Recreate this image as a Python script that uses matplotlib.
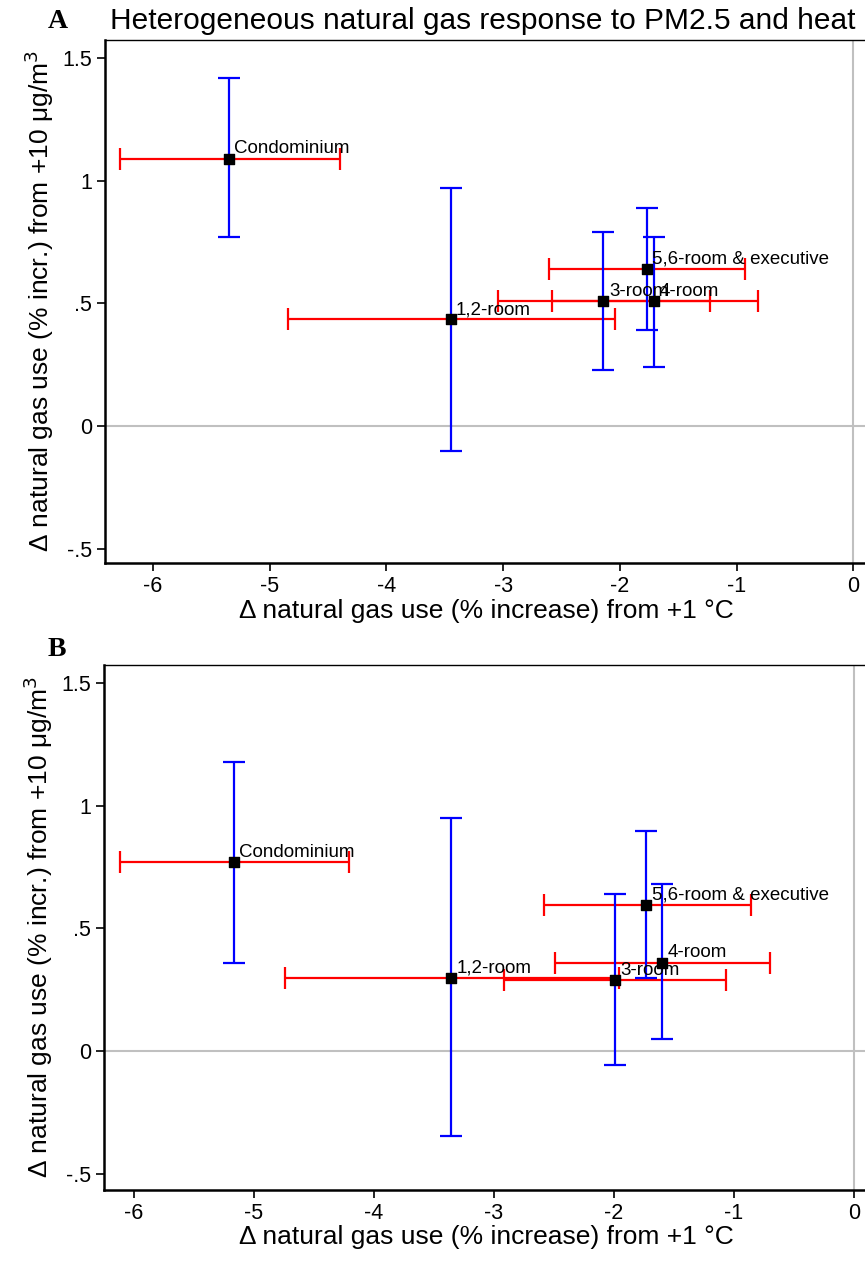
import matplotlib
matplotlib.use('Agg')
import matplotlib.pyplot as plt

plt.rcParams['axes.unicode_minus'] = False
plt.rcParams['font.family'] = ['Liberation Sans', 'DejaVu Sans']

groups = ['Condominium', '1,2-room', '3-room', '4-room', '5,6-room & executive']

# panel A
a_x = [-5.35, -3.45, -2.14, -1.71, -1.77]
a_xlo = [-6.28, -4.84, -3.04, -2.58, -2.61]
a_xhi = [-4.40, -2.04, -1.23, -0.82, -0.93]
a_y = [1.09, 0.435, 0.51, 0.51, 0.64]
a_ylo = [0.77, -0.10, 0.23, 0.24, 0.39]
a_yhi = [1.42, 0.97, 0.79, 0.77, 0.89]

# panel B
b_x = [-5.17, -3.36, -1.99, -1.60, -1.73]
b_xlo = [-6.12, -4.74, -2.92, -2.49, -2.58]
b_xhi = [-4.21, -1.96, -1.07, -0.70, -0.86]
b_y = [0.77, 0.30, 0.29, 0.36, 0.595]
b_ylo = [0.36, -0.345, -0.055, 0.05, 0.30]
b_yhi = [1.18, 0.95, 0.64, 0.68, 0.895]

yticks = [-0.5, 0, 0.5, 1, 1.5]
ytick_labels = ['-.5', '0', '.5', '1', '1.5']
xticks = [-6, -5, -4, -3, -2, -1, 0]

W, H = 865, 1264
fig = plt.figure(figsize=(W / 100, H / 100), dpi=100)


def panel(rect, xlim, ylim, x, xlo, xhi, y, ylo, yhi):
    ax = fig.add_axes(rect)
    ax.set_xlim(*xlim)
    ax.set_ylim(*ylim)
    ax.axhline(0, color='#c0c0c0', lw=1.5, zorder=0)
    ax.axvline(0, color='#c0c0c0', lw=1.5, zorder=0)
    for i in range(len(x)):
        ax.errorbar(x[i], y[i], xerr=[[x[i] - xlo[i]], [xhi[i] - x[i]]],
                    fmt='none', ecolor='red', elinewidth=1.6, capsize=8, capthick=1.6, zorder=2)
        ax.errorbar(x[i], y[i], yerr=[[y[i] - ylo[i]], [yhi[i] - y[i]]],
                    fmt='none', ecolor='blue', elinewidth=1.6, capsize=8, capthick=1.6, zorder=3)
    ax.scatter(x, y, marker='s', s=60, color='black', zorder=4)
    # labels overlap for 3-room/4-room in the original too
    for name, xi, yi in zip(groups, x, y):
        ax.annotate(name, (xi, yi), xytext=(4, 1), textcoords='offset points',
                    fontsize=13.5, va='bottom', ha='left', zorder=5)
    ax.set_yticks(yticks)
    ax.set_yticklabels(ytick_labels)
    ax.set_xticks(xticks)
    ax.tick_params(direction='out', length=6, width=1.2, labelsize=15.5)
    for s in ['left', 'bottom']:
        ax.spines[s].set_linewidth(1.8)
    ax.spines['top'].set_linewidth(1.0)
    ax.spines['right'].set_visible(False)
    ax.set_xlabel('Δ natural gas use (% increase) from +1 °C', fontsize=19)
    ax.set_ylabel('Δ natural gas use (% incr.) from +10 μg/m$^3$', fontsize=19, labelpad=4)
    return ax


axA = panel([105 / W, 1 - 563 / H, 795 / W, 523 / H], (-6.41, 0.4), (-0.557, 1.573),
            a_x, a_xlo, a_xhi, a_y, a_ylo, a_yhi)
axB = panel([104 / W, 1 - 1190 / H, 786 / W, 525 / H], (-6.25, 0.3), (-0.565, 1.573),
            b_x, b_xlo, b_xhi, b_y, b_ylo, b_yhi)
axA.xaxis.set_label_coords(0.48, -0.068)
axB.xaxis.set_label_coords(0.487, -0.067)

fig.text(48 / W, 1 - 22 / H, 'A', fontsize=20, fontweight='bold', family='Liberation Serif', va='center')
fig.text(48 / W, 1 - 650 / H, 'B', fontsize=20, fontweight='bold', family='Liberation Serif', va='center')
fig.text(110 / W, 1 - 21 / H, 'Heterogeneous natural gas response to PM2.5 and heat',
         fontsize=21.5, va='center')

fig.savefig('out.png', dpi=100)
